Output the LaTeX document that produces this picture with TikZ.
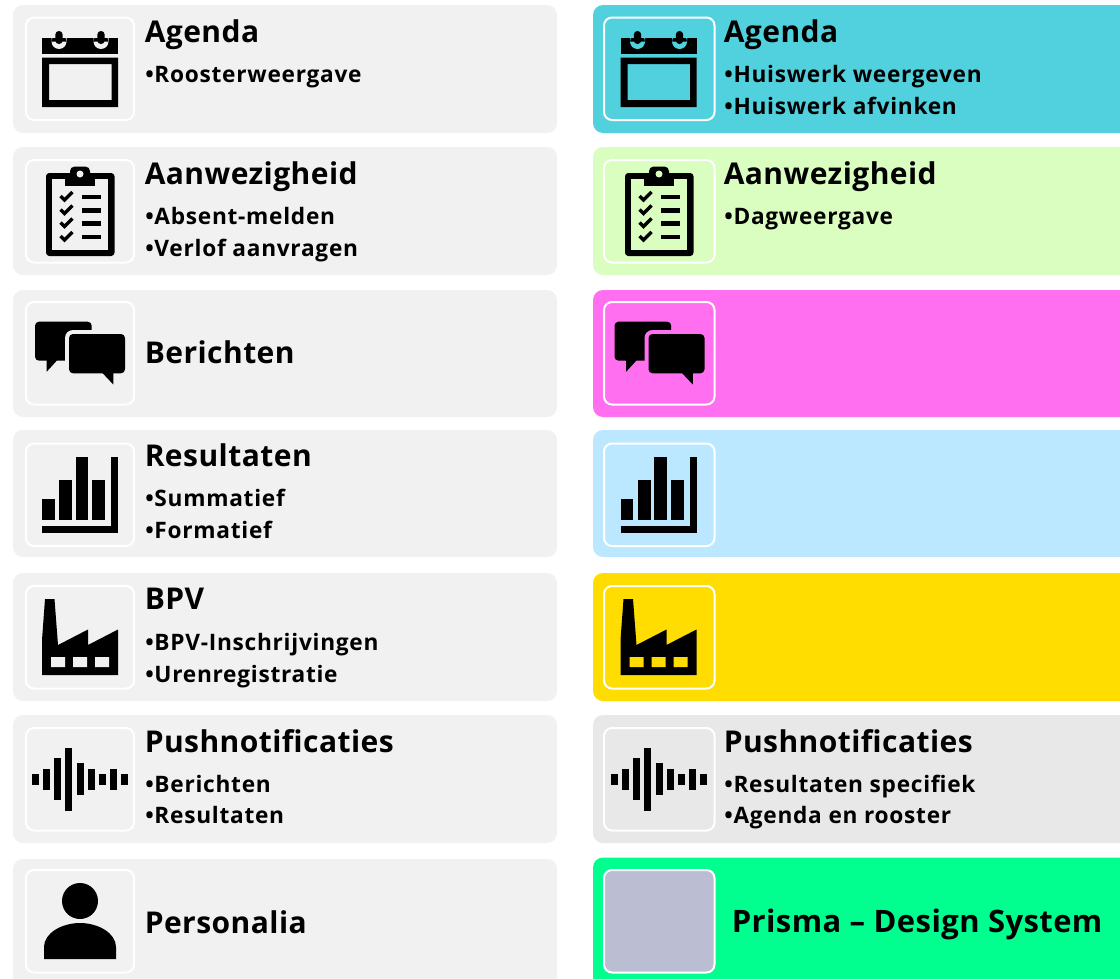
\documentclass[tikz,border=0pt]{standalone}
\usepackage{fontspec}
\setmainfont{Open Sans}
\newfontfamily\ttlfont[LetterSpace=1.5]{Open Sans Bold}
\newfontfamily\bulfont[LetterSpace=3.2]{Open Sans Bold}
\newfontfamily\prifont[LetterSpace=1.4]{Open Sans Bold}
\definecolor{cgrey}{HTML}{F1F1F1}
\definecolor{cteal}{HTML}{50D1DD}
\definecolor{clime}{HTML}{DAFDC0}
\definecolor{cpink}{HTML}{FF6FF0}
\definecolor{csky}{HTML}{BBE8FF}
\definecolor{cyell}{HTML}{FFDD00}
\definecolor{cgrey2}{HTML}{E8E8E8}
\definecolor{cmint}{HTML}{00FF8F}
\definecolor{cslate}{HTML}{BBBDD2}
\tikzset{
  x=0.75pt,y=-0.75pt,
  card/.style={anchor=north west,draw=none,rounded corners=7.5pt,inner sep=0pt,outer sep=0pt},
  iconbox/.style={anchor=north west,draw=white,line width=1.5pt,rounded corners=6pt,inner sep=0pt,outer sep=0pt},
  ttl/.style={anchor=base west,inner sep=0pt,font=\ttlfont\fontsize{22.5pt}{24pt}\selectfont},
  bul/.style={anchor=base west,inner sep=0pt,font=\bulfont\fontsize{17pt}{18pt}\selectfont},
  pri/.style={anchor=base west,inner sep=0pt,font=\prifont\fontsize{23.2pt}{26pt}\selectfont},
}
% Icons are drawn at their position in the left column; #1 = shift, #2 = card colour
\newcommand{\iconcalendar}[2]{\begin{scope}[shift={(#1)}]
  \fill[even odd rule] (42,57.7) rectangle (118,107) (49,64) rectangle (111.5,100);
  \fill (42,37.7) rectangle (118,53.5);
  \foreach \cx in {59,101}{
    \fill[#2] (\cx-7.5,36) rectangle (\cx+7.5,41.5) (\cx,41.5) circle[radius=7.5];
    \fill[rounded corners=2.7pt] (\cx-3.7,31) rectangle (\cx+3.7,44);
  }
\end{scope}}
\newcommand{\iconclip}[2]{\begin{scope}[shift={(#1)}]
  \fill[rounded corners=2.5pt] (46,173) rectangle (114.5,256);
  \fill[#2] (52,179) rectangle (108,250);
  \fill (65,173) rectangle (95,186);
  \fill[rounded corners=3.5pt] (70,166.5) rectangle (90,178);
  \fill[#2] (80,174) circle[radius=3.5];
  \foreach \ry in {197,210.5,223.5,237}{
    \draw[line width=2.6pt] (60.5,\ry-1) -- (64.5,\ry+3) -- (72.5,\ry-5);
    \fill (82,\ry-2.3) rectangle (101,\ry+2.3);
  }
\end{scope}}
\newcommand{\iconbubbles}[2]{\begin{scope}[shift={(#1)}]
  \fill[rounded corners=3pt] (35,321.7) rectangle (91.7,360.7);
  \fill (46.7,355) -- (46.7,371.7) -- (56.7,360.7) -- (60,355) -- cycle;
  \fill[#2,rounded corners=6pt] (65,330) rectangle (129,377);
  \fill[rounded corners=3pt] (69,334) rectangle (125,373.3);
  \fill (102.7,370) -- (102.7,373.3) -- (113.3,384.5) -- (113.3,370) -- cycle;
\end{scope}}
\newcommand{\iconbars}[1]{\begin{scope}[shift={(#1)}]
  \fill (42,499) rectangle (54.7,520);
  \fill (59,480) rectangle (72,520);
  \fill (75.5,457) rectangle (88,520);
  \fill (92,480) rectangle (105,520);
  \fill (111,457) rectangle (118,533);
  \fill (42,526) rectangle (118,533);
\end{scope}}
\newcommand{\iconfactory}[2]{\begin{scope}[shift={(#1)}]
  \fill (45,599) -- (54.5,599) -- (58,645) -- (88,629.5) -- (88,645) -- (118,629.5) -- (118,675) -- (42,675) -- (42,640) -- cycle;
  \fill[#2] (51,657) rectangle (65,667) (73,657) rectangle (87,667) (95,657) rectangle (109,667);
\end{scope}}
\newcommand{\iconwave}[1]{\begin{scope}[shift={(#1)}]
  \fill (32,773.5) rectangle (39,784.5);
  \fill (43,769) rectangle (50,789.5);
  \fill (54,758) rectangle (61,800);
  \fill (65,748) rectangle (72,811);
  \fill (77,763) rectangle (84,795);
  \fill (88,769) rectangle (95,790);
  \fill (99,773.5) rectangle (106,784.5);
  \fill (110,769) rectangle (117,790);
  \fill (121,773.5) rectangle (128,784.5);
\end{scope}}
\newcommand{\iconperson}{
  \fill (80,901) circle[radius=18];
  \fill (44,959) -- (44,947) .. controls (44,933) and (62,923) .. (80,923) .. controls (98,923) and (116,933) .. (116,947) -- (116,959) -- cycle;
}
\begin{document}
\begin{tikzpicture}
\useasboundingbox (0,0) rectangle (1120,978);
\clip (0,0) rectangle (1120,978);
\fill[white] (0,0) rectangle (1120,978);
% Left column cards
\foreach \nm/\ty/\hh in {la/5/128,lb/147/128,lc/290/127,ld/430/127,le/573/128,lf/715/128,lg/859/130}{
  \node[card,fill=cgrey,minimum width=544*0.75pt,minimum height=\hh*0.75pt] (\nm) at (13,\ty) {};
}
\foreach \nm/\ty in {lai/17.5,lbi/160,lci/302,ldi/443.5,lei/586,lfi/728,lgi/870}{
  \node[iconbox,fill=cgrey,minimum width=108*0.75pt,minimum height=102.5*0.75pt] (\nm) at (26,\ty) {};
}
% Right column cards
\node[card,fill=cteal,minimum width=540*0.75pt,minimum height=128*0.75pt] (ra) at (593,5) {};
\node[card,fill=clime,minimum width=540*0.75pt,minimum height=128*0.75pt] (rb) at (593,147) {};
\node[card,fill=cpink,minimum width=540*0.75pt,minimum height=127*0.75pt] (rc) at (593,290) {};
\node[card,fill=csky,minimum width=540*0.75pt,minimum height=127*0.75pt] (rd) at (593,430) {};
\node[card,fill=cyell,minimum width=540*0.75pt,minimum height=128*0.75pt] (re) at (593,573) {};
\node[card,fill=cgrey2,minimum width=540*0.75pt,minimum height=128*0.75pt] (rf) at (593,715) {};
\node[card,fill=cmint,minimum width=540*0.75pt,minimum height=130*0.75pt] (rg) at (593,857.5) {};
\foreach \nm/\ty/\cc in {rai/17.5/cteal,rbi/160/clime,rci/302/cpink,rdi/443.5/csky,rei/586/cyell,rfi/728/cgrey2,rgi/870/cslate}{
  \node[iconbox,fill=\cc,minimum width=110.5*0.75pt,minimum height=102.5*0.75pt] (\nm) at (604,\ty) {};
}
% Icons, left
\iconcalendar{0,0}{cgrey}
\iconclip{0,0}{cgrey}
\iconbubbles{0,0}{cgrey}
\iconbars{0,0}
\iconfactory{0,0}{cgrey}
\iconwave{0,0}
\iconperson
% Icons, right
\iconcalendar{578.5,0}{cteal}
\iconclip{579,0}{clime}
\iconbubbles{579.5,0}{cpink}
\iconbars{578.5,0}
\iconfactory{578.5,0}{cyell}
\iconwave{578.5,0}
% Left texts
\node[ttl] (t1) at (144.5,42) {Agenda};
\node[bul] (b1) at (145,82) {•Roosterweergave};
\node[ttl] (t2) at (144.5,184) {Aanwezigheid};
\node[bul] (b2) at (145,224) {•Absent-melden};
\node[bul] (b3) at (145,256) {•Verlof aanvragen};
\node[ttl] (t3) at (144.5,363) {Berichten};
\node[ttl] (t4) at (144.5,466) {Resultaten};
\node[bul] (b4) at (145,506) {•Summatief};
\node[bul] (b5) at (145,538) {•Formatief};
\node[ttl] (t5) at (144.5,609) {BPV};
\node[bul] (b6) at (145,650) {•BPV-Inschrijvingen};
\node[bul] (b7) at (145,682) {•Urenregistratie};
\node[ttl] (t6) at (144.5,752) {Pushnotificaties};
\node[bul] (b8) at (145,792) {•Berichten};
\node[bul] (b9) at (145,823.5) {•Resultaten};
\node[ttl] (t7) at (144.5,933) {Personalia};
% Right texts
\node[ttl] (u1) at (723.5,42) {Agenda};
\node[bul] (v1) at (724,82) {•Huiswerk weergeven};
\node[bul] (v2) at (724,114) {•Huiswerk afvinken};
\node[ttl] (u2) at (723.5,184) {Aanwezigheid};
\node[bul] (v3) at (724,224) {•Dagweergave};
\node[ttl] (u6) at (723.5,752) {Pushnotificaties};
\node[bul] (v4) at (724,792) {•Resultaten specifiek};
\node[bul] (v5) at (724,823.5) {•Agenda en rooster};
\node[pri] (u7) at (731.5,932) {Prisma – Design System};
\end{tikzpicture}
\end{document}
